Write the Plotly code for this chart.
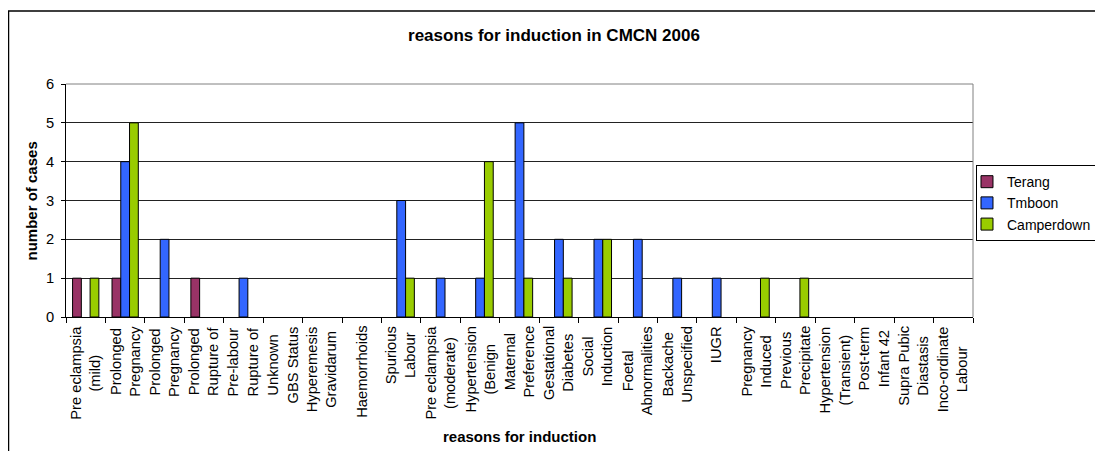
import plotly.graph_objects as go

# category labels (line breaks as in the original chart)
categories = [
    "Pre eclampsia<br>(mild)", "Prolonged<br>Pregnancy", "Prolonged<br>Pregnancy",
    "Prolonged<br>Rupture of", "Pre-labour<br>Rupture of", "Unknown<br>GBS Status",
    "Hyperemesis<br>Gravidarum", "Haemorrhoids", "Spurious<br>Labour",
    "Pre eclampsia<br>(moderate)", "Hypertension<br>(Benign", "Maternal<br>Preference",
    "Gestational<br>Diabetes", "Social<br>Induction", "Foetal<br>Abnormalities",
    "Backache<br>Unspecified", "IUGR", "Pregnancy<br>Induced", "Previous<br>Precipitate",
    "Hypertension<br>(Transient)", "Post-term<br>Infant 42", "Supra Pubic<br>Diastasis",
    "Inco-ordinate<br>Labour",
]

terang = [1, 1, 0, 1, 0, 0, 0, 0, 0, 0, 0, 0, 0, 0, 0, 0, 0, 0, 0, 0, 0, 0, 0]
tmboon = [0, 4, 2, 0, 1, 0, 0, 0, 3, 1, 1, 5, 2, 2, 2, 1, 1, 0, 0, 0, 0, 0, 0]
camperdown = [1, 5, 0, 0, 0, 0, 0, 0, 1, 0, 4, 1, 1, 2, 0, 0, 0, 1, 1, 0, 0, 0, 0]

y_ticks = [0, 1, 2, 3, 4, 5, 6]

FONT = "Liberation Sans, Arial, sans-serif"
x = list(range(len(categories)))

series = [
    ("Terang", terang, "#993366"),
    ("Tmboon", tmboon, "#3366FF"),
    ("Camperdown", camperdown, "#99CC00"),
]

fig = go.Figure()
for name, vals, col in series:
    fig.add_trace(go.Bar(
        x=x,
        y=[v if v else None for v in vals],
        name=name,
        legendgroup=name,
        marker=dict(color=col, line=dict(color="black", width=1)),
    ))

# x labels: rotated, centred multi-line text like excel
annotations = []
for i, lab in enumerate(categories):
    annotations.append(dict(
        x=i, xref="x", y=-0.03, yref="paper",
        text=lab, showarrow=False, textangle=-90,
        xanchor="center", yanchor="top", align="center",
        font=dict(family=FONT, size=14.7, color="black"),
    ))

annotations.append(dict(
    x=0.5, xref="paper", y=-0.515, yref="paper",
    text="<b>reasons for induction</b>", showarrow=False,
    xanchor="center", yanchor="middle",
    font=dict(family=FONT, size=15, color="black"),
))
annotations.append(dict(
    x=-0.0375, xref="paper", y=0.5, yref="paper",
    text="<b>number of cases</b>", showarrow=False, textangle=-90,
    xanchor="center", yanchor="middle",
    font=dict(family=FONT, size=15, color="black"),
))

# the page body has an 8px margin, so the figure is a little smaller
fig.update_layout(
    width=1095,
    height=443,
    paper_bgcolor="white",
    plot_bgcolor="white",
    margin=dict(l=58, r=130, t=76, b=134, autoexpand=False),
    barmode="group",
    bargap=0.333,
    bargroupgap=0,
    title=dict(
        text="<b>reasons for induction in CMCN 2006</b>",
        x=0.4986, xanchor="center",
        y=1 - 27 / 443, yanchor="middle",
        font=dict(family=FONT, size=17, color="black"),
    ),
    xaxis=dict(
        range=[-0.5, len(categories) - 0.5],
        tickvals=[i - 0.5 for i in range(len(categories) + 1)],
        showticklabels=False,
        ticks="outside", ticklen=5, tickcolor="black",
        showline=True, linecolor="black", linewidth=1,
        showgrid=False, zeroline=False,
    ),
    yaxis=dict(
        range=[0, 6],
        tickvals=y_ticks,
        ticks="outside", ticklen=4, tickcolor="black",
        ticklabelstandoff=4,
        tickfont=dict(family=FONT, size=14.7, color="black"),
        showline=True, linecolor="black", linewidth=1,
        showgrid=True, gridcolor="#222222", gridwidth=1,
        zeroline=False,
    ),
    legend=dict(
        x=1.0033, y=0.652, xanchor="left", yanchor="top",
        bordercolor="black", borderwidth=1,
        font=dict(family=FONT, size=14, color="black"),
        itemwidth=30, indentation=-10, tracegroupgap=4,
        traceorder="normal",
    ),
    annotations=annotations,
    shapes=[
        # plot area border (top and right in grey)
        dict(type="line", xref="paper", yref="paper", x0=0, x1=1, y0=1, y1=1,
             line=dict(color="#808080", width=1)),
        dict(type="line", xref="paper", yref="paper", x0=1, x1=1, y0=0, y1=1,
             line=dict(color="#808080", width=1)),
        # chart area border
        dict(type="rect", xref="paper", yref="paper",
             x0=-0.0634, x1=1.14, y0=-0.62, y1=1.313,
             line=dict(color="black", width=1.5)),
    ],
)

fig.write_html("out.html")
